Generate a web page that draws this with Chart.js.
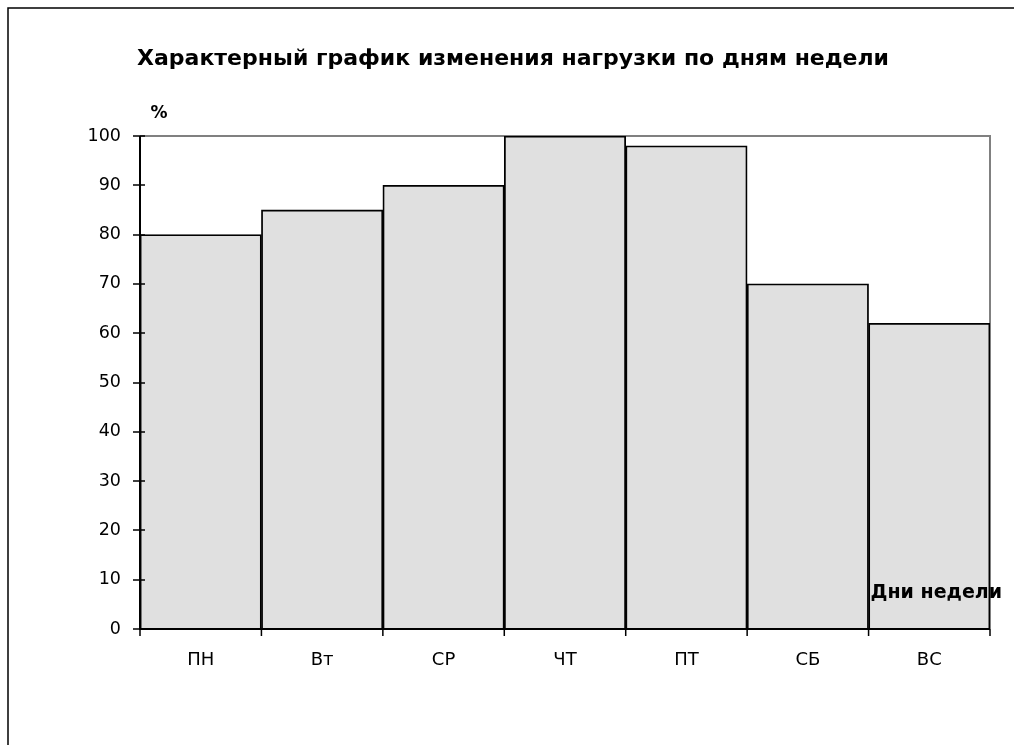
<!DOCTYPE html>
<html>
<head>
<meta charset="utf-8">
<script src="https://cdn.jsdelivr.net/npm/chart.js@4/dist/chart.umd.min.js"></script>
<style>
html,body{margin:0;padding:0;background:#fff;}
#wrap{width:1014px;height:745px;position:relative;}
</style>
</head>
<body>
<div id="wrap"><canvas id="c" width="1014" height="745"></canvas></div>
<script>
const categories = ['ПН', 'Вт', 'СР', 'ЧТ', 'ПТ', 'СБ', 'ВС'];
const loadValues = [80, 85, 90, 100, 98, 70, 62];
const yTicks = [0, 10, 20, 30, 40, 50, 60, 70, 80, 90, 100];
const titleText = 'Характерный график изменения нагрузки по дням недели';
const yAxisTitle = '%';
const xAxisTitle = 'Дни недели';

const FONT = '"DejaVu Sans", Arial, sans-serif';

const decor = {
  id: 'decor',
  beforeDraw(chart) {
    const ctx = chart.ctx;
    ctx.save();
    ctx.fillStyle = '#fff';
    ctx.fillRect(0, 0, chart.width, chart.height);
    ctx.strokeStyle = '#000';
    ctx.lineWidth = 1.5;
    ctx.beginPath();
    ctx.moveTo(8, chart.height);
    ctx.lineTo(8, 8);
    ctx.lineTo(chart.width, 8);
    ctx.stroke();
    ctx.restore();
  },
  beforeDatasetsDraw(chart) {
    const ctx = chart.ctx;
    const a = chart.chartArea;
    ctx.save();
    ctx.strokeStyle = '#808080';
    ctx.lineWidth = 2;
    ctx.beginPath();
    ctx.moveTo(a.left, a.top);
    ctx.lineTo(a.right, a.top);
    ctx.lineTo(a.right, a.bottom);
    ctx.stroke();
    ctx.restore();
  },
  afterDatasetsDraw(chart) {
    const ctx = chart.ctx;
    const a = chart.chartArea;
    const xs = chart.scales.x, ys = chart.scales.y;
    ctx.save();
    ctx.strokeStyle = '#000';
    ctx.lineWidth = 2;
    ctx.beginPath();
    ctx.moveTo(a.left, a.top);
    ctx.lineTo(a.left, a.bottom);
    ctx.lineTo(a.right, a.bottom);
    ctx.stroke();
    ctx.lineWidth = 1.5;
    ctx.beginPath();
    ys.ticks.forEach(t => {
      const y = Math.round(ys.getPixelForValue(t.value));
      ctx.moveTo(a.left - 7, y);
      ctx.lineTo(a.left + 5, y);
    });
    for (let i = 0; i <= categories.length; i++) {
      const x = xs.getPixelForValue(i - 0.5);
      ctx.moveTo(x, a.bottom);
      ctx.lineTo(x, a.bottom + 7);
    }
    ctx.stroke();
    ctx.fillStyle = '#000';
    ctx.textAlign = 'center';
    ctx.textBaseline = 'alphabetic';
    ctx.font = 'bold 22px ' + FONT;
    ctx.fillText(titleText, 513, 65);
    ctx.font = 'bold 17px ' + FONT;
    ctx.fillText(yAxisTitle, 159, 118);
    ctx.textAlign = 'right';
    ctx.font = 'bold 19px ' + FONT;
    ctx.fillText(xAxisTitle, 1002, 598);
    ctx.restore();
  }
};

new Chart(document.getElementById('c'), {
  type: 'bar',
  data: {
    labels: categories,
    datasets: [{
      data: loadValues,
      backgroundColor: '#e0e0e0',
      borderColor: '#000',
      borderWidth: 1.8,
      barPercentage: 1,
      categoryPercentage: 1
    }]
  },
  options: {
    responsive: false,
    animation: false,
    devicePixelRatio: 1,
    layout: { padding: { left: 74, right: 24, top: 136, bottom: 66 } },
    plugins: { legend: { display: false }, title: { display: false }, tooltip: { enabled: false } },
    scales: {
      x: {
        grid: { display: false, drawTicks: false },
        border: { display: false },
        ticks: { color: '#000', font: { family: FONT, size: 18 }, padding: 21 },
        afterFit(s) { s.height = 50; }
      },
      y: {
        min: 0, max: 100,
        afterBuildTicks(s) { s.ticks = yTicks.map(v => ({ value: v })); },
        grid: { display: false, drawTicks: false },
        border: { display: false },
        ticks: { color: '#000', font: { family: FONT, size: 17.5 }, padding: 19 },
        afterFit(s) { s.width = 66; }
      }
    }
  },
  plugins: [decor]
});
</script>
</body>
</html>
